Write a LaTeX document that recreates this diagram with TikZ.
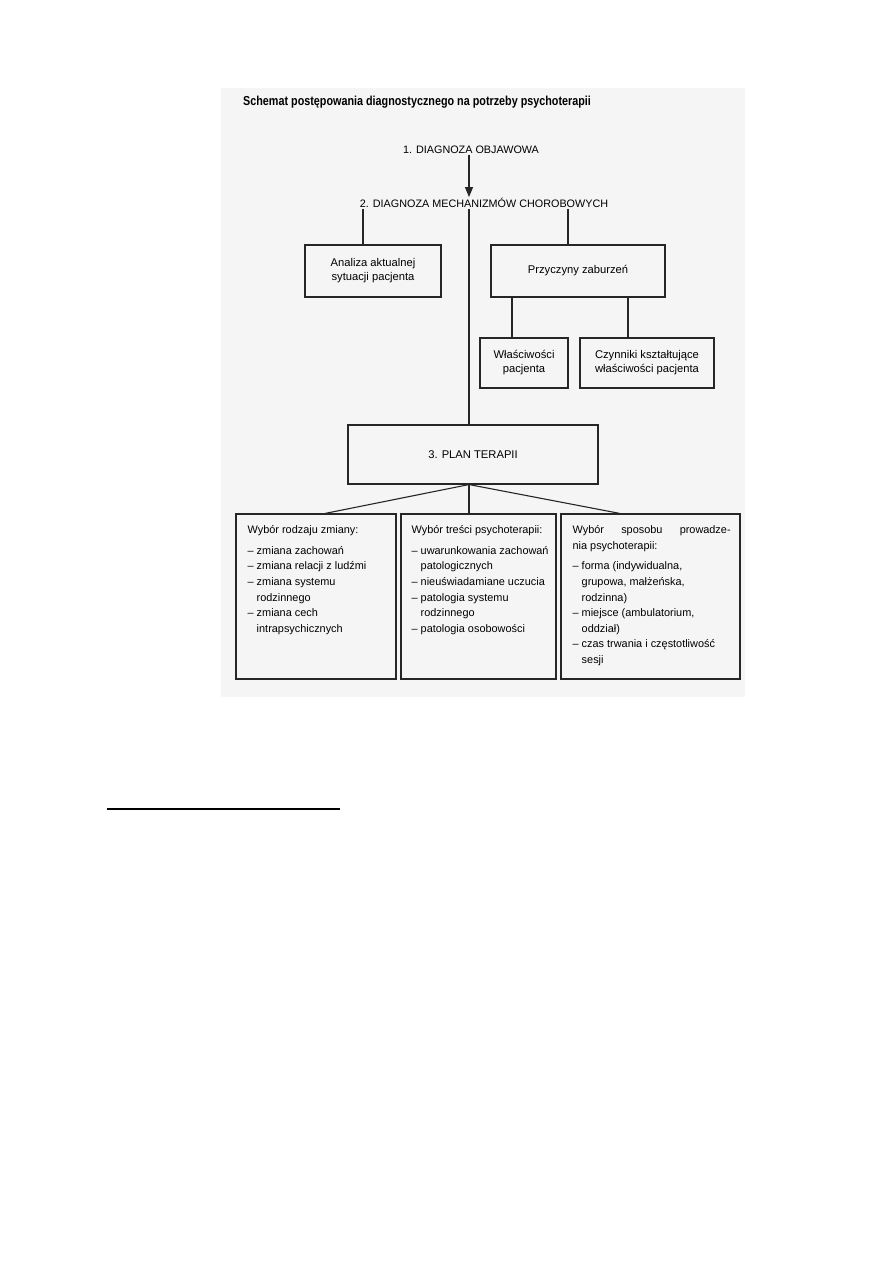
\documentclass[tikz,border=0pt]{standalone}
\usepackage{fontspec}
\setmainfont{Liberation Sans}
\newfontfamily\titlefont[FakeStretch=0.83]{Liberation Sans}
\usetikzlibrary{arrows.meta}
\begin{document}
\begin{tikzpicture}[x=1pt,y=-1pt,
  box/.style={draw=black!85, line width=1.1pt, inner sep=0pt},
  lbl/.style={font=\fontsize{11.2}{14}\selectfont, align=center, text=black},
  head/.style={font=\fontsize{10.8}{13}\selectfont, text=black, inner sep=1pt},
  conn/.style={draw=black!85, line width=1.1pt},
  lst/.style={font=\fontsize{10.9}{15.6}\selectfont, align=left, anchor=north west, inner sep=0pt, text=black}]

\useasboundingbox (0,0) rectangle (893,1263);
\fill[black!4] (221,88) rectangle (745,697);

\node[anchor=west, inner sep=0pt, font=\titlefont\bfseries\fontsize{13}{15}\selectfont] (title) at (243,102) {Schemat postępowania diagnostycznego na potrzeby psychoterapii};

\node[head] (d1) at (471,150) {1. DIAGNOZA OBJAWOWA};
\node[head] (d2) at (484,203) {2. DIAGNOZA MECHANIZMÓW CHOROBOWYCH};

\coordinate (mid) at (469,0);
\coordinate (L) at (363,0);
\coordinate (R) at (568,0);
\coordinate (WL) at (512,0);
\coordinate (CZ) at (628,0);
\coordinate (SL) at (325,0);
\coordinate (SR) at (620,0);

\node[box, lbl, minimum width=136pt, minimum height=52pt] (an) at (373,271) {Analiza aktualnej\\sytuacji pacjenta};
\node[box, lbl, minimum width=174pt, minimum height=52pt] (pz) at (578,271) {Przyczyny zaburzeń};
\node[box, lbl, minimum width=88pt, minimum height=50pt] (wl) at (524,363) {Właściwości\\pacjenta};
\node[box, lbl, minimum width=134pt, minimum height=50pt] (cz) at (647,363) {Czynniki kształtujące\\właściwości pacjenta};
\node[box, lbl, minimum width=250pt, minimum height=59pt] (pl) at (473,454.5) {3. PLAN TERAPII};

\node[box, minimum width=160pt, minimum height=165pt] (b1) at (316,596.5) {};
\node[box, minimum width=155pt, minimum height=165pt] (b2) at (478.5,596.5) {};
\node[box, minimum width=179pt, minimum height=165pt] (b3) at (650.5,596.5) {};

\node[lst] (t1) at ([xshift=12pt,yshift=-12pt]b1.north west) {Wybór rodzaju zmiany:\\[5pt]
– zmiana zachowań\\
– zmiana relacji z ludźmi\\
– zmiana systemu\\
\phantom{– }rodzinnego\\
– zmiana cech\\
\phantom{– }intrapsychicznych};

\node[lst] (t2) at ([xshift=11pt,yshift=-12pt]b2.north west) {Wybór treści psychoterapii:\\[5pt]
– uwarunkowania zachowań\\
\phantom{– }patologicznych\\
– nieuświadamiane uczucia\\
– patologia systemu\\
\phantom{– }rodzinnego\\
– patologia osobowości};

\node[lst] (t3) at ([xshift=12pt,yshift=-12pt]b3.north west) {\makebox[158pt][s]{Wybór sposobu prowadze-}\\
nia psychoterapii:\\[5pt]
– forma (indywidualna,\\
\phantom{– }grupowa, małżeńska,\\
\phantom{– }rodzinna)\\
– miejsce (ambulatorium,\\
\phantom{– }oddział)\\
– czas trwania i częstotliwość\\
\phantom{– }sesji};

\draw[conn, -{Triangle[length=10pt,width=8pt]}] (d1.south -| mid) -- (d2.north -| mid);
\draw[conn] (d2.south -| L) -- (an.north -| L);
\draw[conn] (d2.south -| R) -- (pz.north -| R);
\draw[conn] (d2.south -| mid) -- (pl.north -| mid);
\draw[conn] (pz.south -| WL) -- (wl.north -| WL);
\draw[conn] (pz.south -| CZ) -- (cz.north -| CZ);
\draw[conn] (pl.south -| mid) -- (b2.north -| mid);
\draw[conn] (pl.south -| mid) -- (b1.north -| SL);
\draw[conn] (pl.south -| mid) -- (b3.north -| SR);

\coordinate (f1) at (107,809);
\coordinate (f2) at (340,809);
\draw[line width=2pt] (f1) -- (f2);
\end{tikzpicture}
\end{document}
